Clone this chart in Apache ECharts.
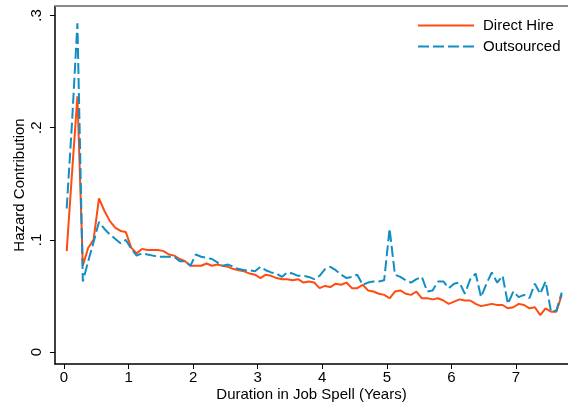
<!DOCTYPE html>
<html>
<head>
<meta charset="utf-8">
<script src="https://cdn.jsdelivr.net/npm/echarts@6/dist/echarts.min.js"></script>
<style>
html,body{margin:0;padding:0;background:#fff;}
#chart{width:568px;height:407px;}
</style>
</head>
<body>
<div id="chart"></div>
<script>
// Duration in job spell (years), monthly midpoints
var durationYears = [
0.042,0.125,0.208,0.292,0.375,0.458,0.542,0.625,0.708,0.792,0.875,0.958,
1.042,1.125,1.208,1.292,1.375,1.458,1.542,1.625,1.708,1.792,1.875,1.958,
2.042,2.125,2.208,2.292,2.375,2.458,2.542,2.625,2.708,2.792,2.875,2.958,
3.042,3.125,3.208,3.292,3.375,3.458,3.542,3.625,3.708,3.792,3.875,3.958,
4.042,4.125,4.208,4.292,4.375,4.458,4.542,4.625,4.708,4.792,4.875,4.958,
5.042,5.125,5.208,5.292,5.375,5.458,5.542,5.625,5.708,5.792,5.875,5.958,
6.042,6.125,6.208,6.292,6.375,6.458,6.542,6.625,6.708,6.792,6.875,6.958,
7.042,7.125,7.208,7.292,7.375,7.458,7.542,7.625,7.708
];
var directHire = [
0.090,0.160,0.228,0.077,0.093,0.100,0.137,0.126,0.117,0.111,0.108,0.107,
0.093,0.088,0.092,0.091,0.091,0.091,0.090,0.087,0.086,0.083,0.081,0.077,
0.077,0.077,0.079,0.077,0.078,0.077,0.076,0.074,0.073,0.072,0.070,0.069,
0.066,0.069,0.068,0.066,0.065,0.065,0.064,0.065,0.062,0.063,0.062,0.057,
0.059,0.058,0.061,0.060,0.062,0.057,0.057,0.060,0.055,0.054,0.052,0.051,
0.048,0.054,0.055,0.052,0.051,0.054,0.048,0.048,0.047,0.048,0.046,0.043,
0.045,0.047,0.046,0.046,0.043,0.041,0.042,0.043,0.042,0.042,0.039,0.040,
0.043,0.042,0.039,0.040,0.033,0.039,0.036,0.036,0.051
];
var outsourced = [
0.128,0.205,0.293,0.063,0.081,0.098,0.116,0.110,0.105,0.101,0.097,0.100,
0.092,0.086,0.088,0.087,0.086,0.085,0.085,0.085,0.085,0.081,0.081,0.077,
0.087,0.085,0.084,0.083,0.080,0.077,0.078,0.076,0.074,0.073,0.073,0.072,
0.076,0.073,0.071,0.070,0.067,0.071,0.070,0.068,0.068,0.067,0.065,0.068,
0.074,0.076,0.073,0.069,0.066,0.067,0.069,0.060,0.062,0.063,0.063,0.064,
0.110,0.069,0.067,0.064,0.062,0.065,0.067,0.054,0.055,0.063,0.063,0.057,
0.061,0.062,0.052,0.065,0.070,0.049,0.061,0.071,0.062,0.068,0.043,0.054,
0.049,0.051,0.048,0.061,0.052,0.063,0.036,0.037,0.053
];
var xTicks = [0,1,2,3,4,5,6,7];
var yTicks = [0,0.1,0.2,0.3];
var yTickLabels = ['0','.1','.2','.3'];
var seriesNames = ['Direct Hire','Outsourced'];

function pairs(xs, ys){ return xs.map(function(x,i){ return [x, ys[i]]; }); }

var chart = echarts.init(document.getElementById('chart'), null, {renderer:'canvas'});
var font = 'Liberation Sans, Arial, Helvetica, sans-serif';
chart.setOption({
  animation:false,
  backgroundColor:'#fff',
  textStyle:{fontFamily:font},
  grid:{left:55, top:6, width:513, height:360, containLabel:false},
  graphic:[{type:'line', shape:{x1:55,y1:6,x2:568,y2:6}, style:{stroke:'#8a8a8a', lineWidth:2}, z:10}],
  legend:{
    orient:'vertical', left:412, top:13, itemWidth:56, itemHeight:14, itemGap:6,
    itemStyle:{opacity:0, borderWidth:0},
    textStyle:{fontSize:15, color:'#000', fontFamily:font, padding:[0,0,0,4]},
    data:seriesNames
  },
  xAxis:{
    type:'value', min:-0.139, max:7.805,
    name:'Duration in Job Spell (Years)', nameLocation:'middle', nameGap:23, nameMoveOverlap:false,
    nameTextStyle:{fontSize:15, color:'#000', fontFamily:font},
    axisLine:{show:true, onZero:false, lineStyle:{color:'#000', width:1.5}},
    axisTick:{show:true, length:5, lineStyle:{color:'#000', width:1}, customValues:xTicks},
    axisLabel:{fontSize:15, color:'#000', margin:6, customValues:xTicks, formatter:function(v){return String(v);}},
    splitLine:{show:false}
  },
  yAxis:{
    type:'value', min:-0.0106, max:0.3085,
    name:'Hazard Contribution', nameLocation:'middle', nameGap:28, nameRotate:90, nameMoveOverlap:false,
    nameTextStyle:{fontSize:15, color:'#000', fontFamily:font},
    axisLine:{show:true, onZero:false, lineStyle:{color:'#000', width:1.5}},
    axisTick:{show:true, length:5, lineStyle:{color:'#000', width:1}, customValues:yTicks},
    axisLabel:{fontSize:15, color:'#000', margin:11, rotate:90, customValues:yTicks,
      formatter:function(v){ var i = yTicks.indexOf(Math.round(v*10)/10); return i>=0 ? yTickLabels[i] : ''; }},
    splitLine:{show:false}
  },
  series:[
    {name:seriesNames[0], type:'line', data:pairs(durationYears, directHire), symbol:'none',
     lineStyle:{color:'#ff4d12', width:2}, itemStyle:{color:'#ff4d12'}, z:2},
    {name:seriesNames[1], type:'line', data:pairs(durationYears, outsourced), symbol:'none',
     lineStyle:{color:'#128ec4', width:2, type:[11,4]}, itemStyle:{color:'#128ec4'}, z:3}
  ]
});
</script>
</body>
</html>
